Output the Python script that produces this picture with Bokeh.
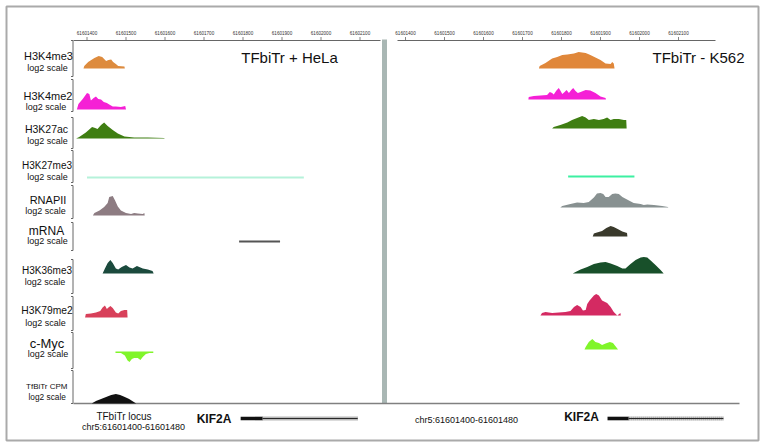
from bokeh.plotting import figure
from bokeh.models import Range1d
from bokeh.core.properties import value
from bokeh.embed import file_html
from bokeh.resources import INLINE

# ---------------- data ----------------
REGION_START = 61601400          # chr5 coordinate; x offsets below are bp from here
TICKS = [61601400, 61601500, 61601600, 61601700, 61601800, 61601900, 61602000, 61602100]
TICK_LABELS = [str(t) for t in TICKS]

TRACK_NAMES = ["H3K4me3", "H3K4me2", "H3K27ac", "H3K27me3", "RNAPII", "mRNA",
               "H3K36me3", "H3K79me2", "c-Myc", "TfBiTr CPM"]
TRACK_SUB = "log2 scale"
PANEL_TITLES = ["TFbiTr + HeLa", "TFbiTr - K562"]
LOCUS_NAME = "TFbiTr locus"
LOCUS = "chr5:61601400-61601480"
GENE = "KIF2A"

# HeLa (left) signal tracks: x = bp offset, y = log2 signal
HELA_K4ME3_X = [-9, -7, 3, 19, 30, 39, 49, 55, 62, 67, 74, 80, 96, 97]
HELA_K4ME3_Y = [0, 1.3, 3.3, 5.2, 6.3, 5.8, 3.8, 4.3, 4.5, 3.3, 2.2, 1.3, 1.0, 0]
HELA_K4ME2_X = [-26, -22, -11, 0, 6, 10, 17, 23, 29, 36, 43, 51, 57, 66, 74, 87, 98, 100]
HELA_K4ME2_Y = [0, 2.8, 5.3, 8.3, 7.8, 4.5, 5.8, 6.5, 5.3, 5, 3.7, 3.2, 2.5, 1.5, 1.5, 1.2, 1.8, 0]
HELA_K27AC_X = [-28, -20, -3, 13, 21, 27, 36, 44, 53, 66, 79, 96, 121, 156, 198, 199]
HELA_K27AC_Y = [0, 0.8, 3, 5.8, 5.2, 4.7, 6.8, 8, 6.3, 4.2, 2.5, 1, 0.5, 0.5, 0.3, 0]
HELA_K27ME3_X = [0, 556]
HELA_K27ME3_Y = [0, 0]
HELA_POL2_X = [15, 19, 32, 44, 53, 57, 66, 72, 79, 87, 100, 113, 121, 130, 143, 147, 148]
HELA_POL2_Y = [0, 1.2, 2.5, 4.2, 6.2, 9.2, 9.7, 7.5, 4.5, 2.5, 1.2, 0.8, 1.3, 1, 0.8, 1.3, 0]
HELA_MRNA_X = [390, 495]
HELA_MRNA_Y = [0, 0]
HELA_K36ME3_X = [40, 46, 53, 60, 66, 74, 80, 89, 100, 109, 117, 128, 134, 143, 156, 168, 171]
HELA_K36ME3_Y = [0, 2.5, 5.3, 6.7, 5.3, 2.5, 2, 3.3, 4.2, 3, 2.5, 3.7, 3.3, 2.5, 2, 1.3, 0]
HELA_K79ME2_X = [-5, -3, 10, 23, 34, 40, 46, 51, 55, 60, 66, 74, 80, 87, 96, 103, 104]
HELA_K79ME2_Y = [0, 1.7, 2, 2.5, 3.3, 5, 6, 4.2, 5, 5.8, 4.7, 2.5, 2, 3.3, 3.7, 3.7, 0]
HELA_MYC_X = [73, 87, 97, 104, 109, 115, 121, 130, 137, 143, 151, 160, 170]
HELA_MYC_Y = [-0.8, -0.8, -2, -4.5, -5.3, -3.7, -3.2, -3.2, -4.2, -2.8, -1.2, -0.8, -0.8]
HELA_CPM_X = [12, 23, 36, 49, 62, 74, 85, 97, 108, 120, 126]
HELA_CPM_Y = [0, 1.2, 2.3, 3.3, 4.3, 4.8, 4.3, 3.3, 2.2, 0.8, 0]

# K562 (right) signal tracks
K562_K4ME3_X = [342, 344, 359, 376, 389, 402, 415, 432, 444, 462, 474, 487, 500, 513, 526, 530, 534, 536]
K562_K4ME3_Y = [0, 1.2, 2.8, 5, 5.8, 6.7, 7, 7.5, 8.3, 7.8, 6.7, 5.5, 4.2, 2.5, 2.2, 3.3, 2.5, 0]
K562_K4ME2_X = [315, 316, 329, 346, 363, 370, 376, 380, 387, 393, 397, 402, 408, 413, 419, 425,
                430, 436, 442, 449, 462, 474, 487, 500, 513, 514]
K562_K4ME2_Y = [0, 1.2, 1.7, 2, 2.3, 3.7, 3.2, 2.5, 4.5, 5.8, 4.5, 2.8, 3.7, 4.8, 3.2, 4.8,
                5.8, 4.2, 3.2, 3.7, 4.8, 4.5, 3.2, 1.5, 0.8, 0]
K562_K27AC_X = [376, 380, 397, 415, 427, 440, 453, 462, 470, 483, 496, 508, 517, 526, 534, 547, 560, 566, 567]
K562_K27AC_Y = [0, 0.8, 1.8, 3, 4.2, 5.2, 6.3, 5.5, 4.2, 4.7, 4.2, 4.7, 5.5, 4.3, 4.7, 4.7, 4.3, 4.2, 0]
K562_K27ME3_X = [417, 587]
K562_K27ME3_Y = [0, 0]
K562_POL2_X = [397, 402, 423, 440, 457, 470, 483, 491, 500, 507, 513, 521, 530, 538, 547, 556,
               568, 585, 603, 611, 620, 637, 658, 673, 674]
K562_POL2_Y = [0, 0.7, 1.7, 2.5, 2.3, 2.8, 5, 7, 7.3, 6.7, 5.3, 5.3, 6.7, 7, 6.7, 5.3,
               4, 2.3, 1.7, 1.2, 1.5, 1.2, 0.7, 0.3, 0]
K562_MRNA_X = [480, 483, 491, 504, 515, 526, 534, 544, 556, 564, 568, 569]
K562_MRNA_Y = [0, 1.5, 2, 2.8, 4.2, 5.3, 4.8, 3.7, 2.5, 2, 1.7, 0]
K562_K36ME3_X = [429, 436, 449, 466, 483, 500, 513, 526, 543, 556, 564, 577, 590, 603, 611, 620, 630, 641, 654, 662]
K562_K36ME3_Y = [0, 0.8, 2, 3.3, 4.7, 5.5, 5.8, 5, 3.7, 2.5, 2.5, 4.7, 6.7, 8, 8.3, 8, 6.3, 4.2, 1.7, 0]
K562_K79ME2_X = [346, 350, 359, 376, 393, 410, 423, 432, 440, 449, 455, 462, 466, 472, 483, 489,
                 496, 504, 517, 526, 534, 543, 551, 552]
K562_K79ME2_Y = [0, 1.3, 1.7, 1.3, 1.5, 1.8, 2.2, 4.2, 5.3, 4.2, 2.5, 2.8, 5.8, 7.5, 10, 10.8,
                 10, 7.5, 6.2, 4.2, 1.7, 0, 1.2, 0]
K562_MYC_X = [459, 462, 470, 479, 487, 496, 504, 513, 524, 532, 538, 545]
K562_MYC_Y = [0, 1.3, 3.8, 5.2, 3.8, 3.3, 2.2, 3, 3.8, 3.3, 1.7, 0]

# gene model (bp offsets): exon start, exon end, intron end
HELA_GENE = [394, 450, 694]
K562_GENE = [518, 572, 815]

HELA_TRACKS = [(HELA_K4ME3_X, HELA_K4ME3_Y), (HELA_K4ME2_X, HELA_K4ME2_Y), (HELA_K27AC_X, HELA_K27AC_Y),
               (HELA_K27ME3_X, HELA_K27ME3_Y), (HELA_POL2_X, HELA_POL2_Y), (HELA_MRNA_X, HELA_MRNA_Y),
               (HELA_K36ME3_X, HELA_K36ME3_Y), (HELA_K79ME2_X, HELA_K79ME2_Y), (HELA_MYC_X, HELA_MYC_Y),
               (HELA_CPM_X, HELA_CPM_Y)]
K562_TRACKS = [(K562_K4ME3_X, K562_K4ME3_Y), (K562_K4ME2_X, K562_K4ME2_Y), (K562_K27AC_X, K562_K27AC_Y),
               (K562_K27ME3_X, K562_K27ME3_Y), (K562_POL2_X, K562_POL2_Y), (K562_MRNA_X, K562_MRNA_Y),
               (K562_K36ME3_X, K562_K36ME3_Y), (K562_K79ME2_X, K562_K79ME2_Y), (K562_MYC_X, K562_MYC_Y)]
LINE_TRACKS = {"H3K27me3", "mRNA"}
LINE_TRACKS_K562 = {"H3K27me3"}

# ---------------- styling / layout ----------------
HELA_COLORS = ["#dd8b3e", "#f520d5", "#3f7e12", "#b5f2da", "#8d7c82", "#555555",
               "#1b4a3d", "#d8405a", "#80f52a", "#111111"]
K562_COLORS = ["#e0873a", "#f51fd6", "#3f7e12", "#3cf0a2", "#889191", "#3a3a2c",
               "#18502a", "#d42a62", "#80f52a"]
HELA_BASE = [68, 109, 138, 177, 215, 241, 273, 317, 351, 403]
K562_BASE = [68, 99, 128, 176, 207, 236, 273, 315, 349]
LABEL_X = [48, 47.5, 46, 46.5, 47.5, 46, 46.5, 46.5, 46.5, 46.3]
LABEL_Y = [55, 95, 128.5, 164.7, 199.5, 230.5, 269.5, 310, 342.5, 385.5]
SUB_X = [47, 45.5, 47, 47, 45, 47, 44.5, 45, 47.5, 46.7]
SUB_Y = [67, 106, 140.5, 176.7, 210, 240, 281, 322.5, 353, 396]
LABEL_SIZE = [11, 11, 10.5, 10, 11, 12, 10, 10.3, 13, 8]
SUB_SIZE = [9, 9, 9, 9, 9, 9, 9, 9, 9, 8.3]
SEPARATORS = [(40, 76), (79, 111), (117, 148), (150, 182), (185, 218), (222, 250),
              (259, 293), (296, 330), (332, 368), (370, 403)]
FONT = value("Liberation Sans")

W, H = 764, 447
X0, Y0 = 0, 0
PX_PER_BP = 0.39
S = 2.0  # px per log2 unit

p = figure(width=W, height=H, output_backend="svg", toolbar_location=None,
           x_range=Range1d(X0, X0 + W), y_range=Range1d(Y0 + H, Y0),
           x_axis_location=None, y_axis_location=None, min_border=0)
p.grid.visible = False
p.outline_line_color = None
p.background_fill_color = "white"
p.border_fill_color = "white"


def genomic_range(anchor_px):
    start = REGION_START - (anchor_px - X0) / PX_PER_BP
    return Range1d(start, start + W / PX_PER_BP)


def track_range(base):
    return Range1d(-(Y0 + H - base) / S, (base - Y0) / S)


p.extra_x_ranges = {"hela": genomic_range(86.5), "k562": genomic_range(405)}
yr = {}
for i, b in enumerate(HELA_BASE):
    yr[f"h{i}"] = track_range(b)
for i, b in enumerate(K562_BASE):
    yr[f"k{i}"] = track_range(b)
p.extra_y_ranges = yr

# outer frame
p.quad(left=[6], right=[758], bottom=[440], top=[6], fill_color=None,
       line_color="#aaaaaa", line_width=2)

# divider and axes lines
p.quad(left=[381.5], right=[386.5], bottom=[403], top=[39], fill_color="#a9b7b4", line_color=None)
p.segment(x0=[73, 397, 73], x1=[380, 715, 739], y0=[40, 40, 403], y1=[40, 40, 403],
          line_color=["#666666", "#666666", "#808080"], line_width=[1, 1, 1.3])
for rng in ("hela", "k562"):
    p.segment(x0=TICKS, x1=TICKS, y0=[36.5] * len(TICKS), y1=[40] * len(TICKS),
              x_range_name=rng, line_color="#666666", line_width=0.8)
    p.text(x=TICKS, y=[32.5] * len(TICKS), text=TICK_LABELS, x_range_name=rng,
           text_align="center", text_baseline="middle", text_font_size="4.6px",
           text_font=FONT, text_color="#333333")

# left label-column brackets
sx = [72.5] * len(SEPARATORS)
p.segment(x0=sx, x1=sx, y0=[a for a, b in SEPARATORS], y1=[b for a, b in SEPARATORS],
          line_color="#666666", line_width=1)
p.segment(x0=[70.5] * len(SEPARATORS) * 2, x1=sx * 2,
          y0=[a for a, b in SEPARATORS] + [b for a, b in SEPARATORS],
          y1=[a for a, b in SEPARATORS] + [b for a, b in SEPARATORS],
          line_color="#666666", line_width=1)


def draw_tracks(tracks, colors, prefix, rng, line_set):
    for i, (xs, ys) in enumerate(tracks):
        gx = [REGION_START + o for o in xs]
        if TRACK_NAMES[i] in line_set:
            p.line(x=gx, y=ys, x_range_name=rng, y_range_name=f"{prefix}{i}",
                   line_color=colors[i], line_width=2.2)
        else:
            p.varea(x=gx, y1=[0] * len(ys), y2=ys, x_range_name=rng,
                    y_range_name=f"{prefix}{i}", fill_color=colors[i])


draw_tracks(HELA_TRACKS, HELA_COLORS, "h", "hela", LINE_TRACKS)
draw_tracks(K562_TRACKS, K562_COLORS, "k", "k562", LINE_TRACKS_K562)

# track labels
for i, name in enumerate(TRACK_NAMES):
    p.text(x=[LABEL_X[i]], y=[LABEL_Y[i]], text=[name], text_align="center", text_baseline="middle",
           text_font=FONT, text_font_size=f"{LABEL_SIZE[i]}px", text_color="#111111")
    p.text(x=[SUB_X[i]], y=[SUB_Y[i]], text=[TRACK_SUB], text_align="center", text_baseline="middle",
           text_font=FONT, text_font_size=f"{SUB_SIZE[i]}px", text_color="#111111")

# panel titles
p.text(x=[289, 698], y=[56.5, 56.5], text=PANEL_TITLES, text_align="center",
       text_baseline="middle", text_font=FONT, text_font_size="15px", text_color="#111111")

# bottom annotations
p.text(x=[123.5], y=[415.5], text=[LOCUS_NAME], text_align="center", text_baseline="middle",
       text_font=FONT, text_font_size="10px", text_color="#111111")
p.text(x=[133, 466], y=[426.7, 419], text=[LOCUS, LOCUS], text_align="center",
       text_baseline="middle", text_font=FONT, text_font_size="9px", text_color="#111111")
p.text(x=[213.5, 581], y=[418, 416], text=[GENE, GENE], text_align="center",
       text_baseline="middle", text_font=FONT, text_font_size="12px", text_font_style="bold",
       text_color="#111111")

# gene models
for rng, g in (("hela", HELA_GENE), ("k562", K562_GENE)):
    gx = [REGION_START + o for o in g]
    p.quad(left=[gx[0]], right=[gx[1]], bottom=[419.8], top=[416.2], x_range_name=rng,
           fill_color="#111111", line_color=None)
    p.segment(x0=[gx[1]], x1=[gx[2]], y0=[418], y1=[418], x_range_name=rng,
              line_color="#222222", line_width=1)
    p.segment(x0=[gx[1]], x1=[gx[2]], y0=[418], y1=[418], x_range_name=rng,
              line_color="#333333", line_width=4, line_dash=value([1, 1]), line_alpha=0.7)

open("out.html", "w").write(file_html(p, INLINE))
